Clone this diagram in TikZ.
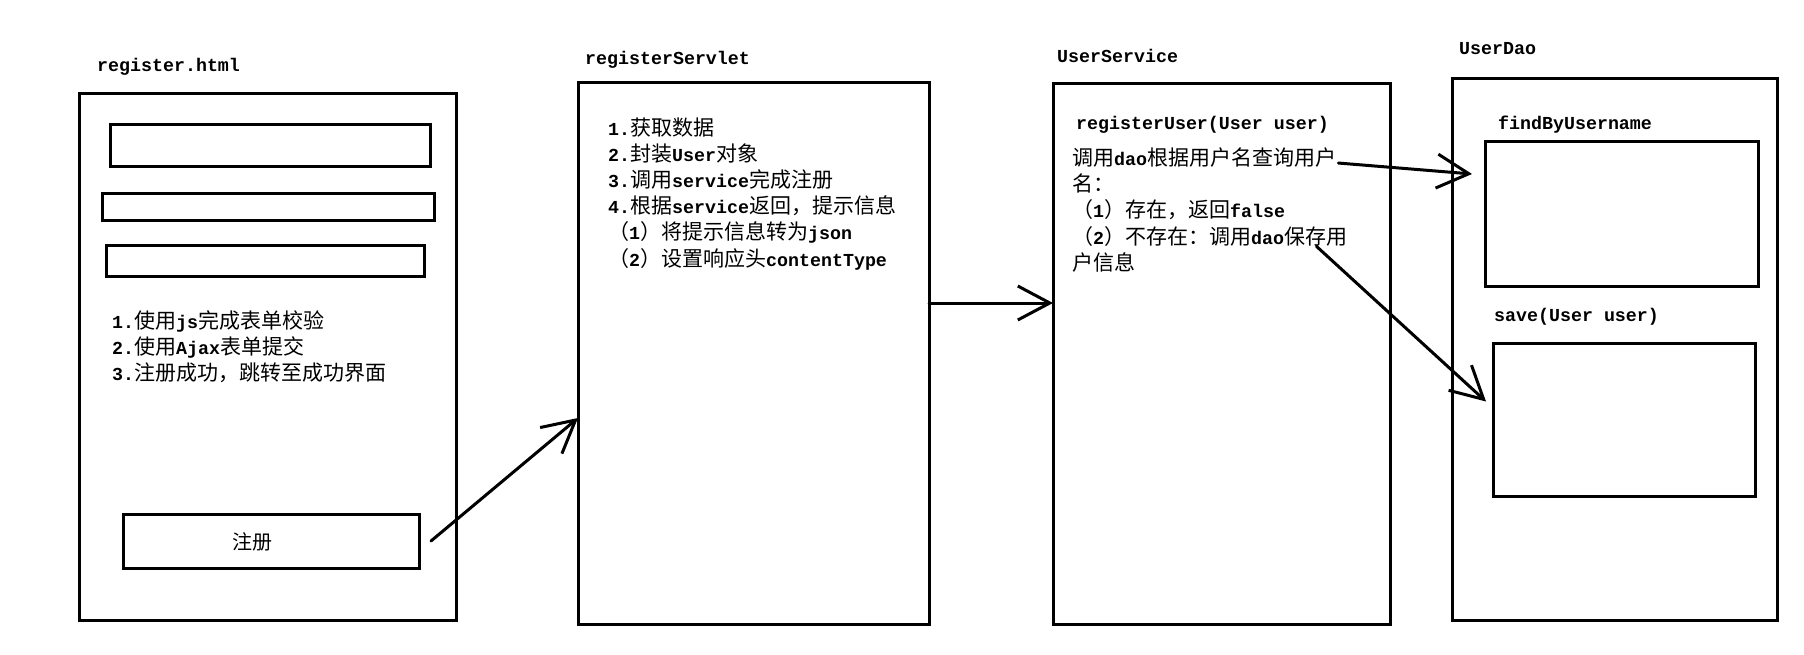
\documentclass[tikz,border=0pt]{standalone}
\usepackage{fontspec}
\newfontfamily\zhfont{Noto Sans CJK SC}
\newfontfamily\enfont{Liberation Mono}
\usetikzlibrary{arrows.meta,fit}
\newcommand\latn[1]{{\enfont\bfseries\fontsize{18.3pt}{26pt}\selectfont #1}}
\tikzset{
  box/.style={draw, line width=3pt, inner sep=0pt, outer sep=0pt},
  zh/.style={font=\zhfont\fontsize{21pt}{26pt}\selectfont, inner sep=0pt, anchor=base west},
  en/.style={font=\enfont\bfseries\fontsize{18.3pt}{26pt}\selectfont, inner sep=0pt, anchor=base west},
  conn/.style={line width=3pt, line cap=round, -{Straight Barb[length=32pt,width=34pt]}},
}
\begin{document}
\begin{tikzpicture}[x=1pt,y=-1pt]
\useasboundingbox[fill=white] (0,0) rectangle (1804,655);

% ---- register.html ----
\node[en] (t1) at (97,72) {register.html};
\node[box, fit={(79,94) (456,620)}] (b1) {};
\node[box, fit={(110,125) (430,167)}] (inA) {};
\node[box, fit={(102,194) (434,221)}] (inB) {};
\node[box, fit={(106,245) (424,276)}] (inC) {};
\node[zh] (h1) at (112,328) {\latn{1.}使用\latn{js}完成表单校验};
\node[zh] (h2) at (112,354) {\latn{2.}使用\latn{Ajax}表单提交};
\node[zh] (h3) at (112,380) {\latn{3.}注册成功，跳转至成功界面};
\node[box, fit={(123,514) (419,568)}] (btn) {};
\node[zh, anchor=base, font=\zhfont\fontsize{20pt}{26pt}\selectfont] (bt) at (252,549) {注册};

% ---- registerServlet ----
\node[en] (t2) at (585,65) {registerServlet};
\node[box, fit={(578,83) (929,624)}] (b2) {};
\node[zh] (r1) at (608,136) {\latn{1.}获取数据};
\node[zh] (r2) at (608,162) {\latn{2.}封装\latn{User}对象};
\node[zh] (r3) at (608,188) {\latn{3.}调用\latn{service}完成注册};
\node[zh] (r4) at (608,214) {\latn{4.}根据\latn{service}返回，提示信息};
\node[zh] (r5) at (608,240) {（\latn{1}）将提示信息转为\latn{json}};
\node[zh] (r6) at (608,266) {（\latn{2}）设置响应头\latn{contentType}};

% ---- UserService ----
\node[en] (t3) at (1057,63) {UserService};
\node[box, fit={(1053,84) (1390,624)}] (b3) {};
\node[en] (m0) at (1076,130) {registerUser(User user)};
\node[zh] (s1) at (1072,166) {调用\latn{dao}根据用户名查询用户};
\node[zh] (s2) at (1072,192) {名：};
\node[zh] (s3) at (1072,218) {（\latn{1}）存在，返回\latn{false}};
\node[zh] (s4) at (1072,244) {（\latn{2}）不存在：调用\latn{dao}保存用};
\node[zh] (s5) at (1072,270) {户信息};

% ---- UserDao ----
\node[en] (t4) at (1459,55) {UserDao};
\node[box, fit={(1452,79) (1777,620)}] (b4) {};
\node[en] (fl) at (1498,130) {findByUsername};
\node[box, fit={(1485,142) (1758,286)}] (find) {};
\node[en] (sl) at (1494,321) {save(User user)};
\node[box, fit={(1493,343) (1755,496)}] (save) {};

% ---- connectors ----
\draw[conn] ([xshift=12pt]btn.east) -- (b2.west |- 0,418);
\draw[conn] (b2.east |- 0,303) -- (b3.west |- 0,303);
\draw[conn] ([shift={(2,5)}]s1.east) -- ([shift={(-13,-40)}]find.west);
\draw[conn] ([xshift=-31pt]s4.south east) -- ([shift={(-7,-18)}]save.west);
\end{tikzpicture}
\end{document}
